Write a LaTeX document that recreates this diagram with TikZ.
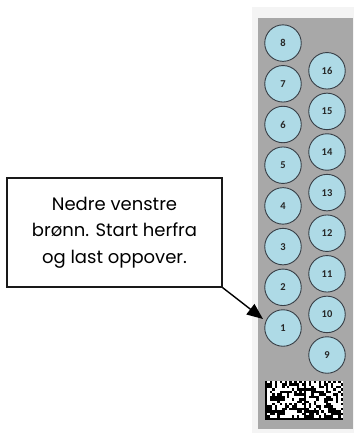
\documentclass[tikz,border=0pt]{standalone}
\usepackage{fontspec}
\setmainfont{Poppins}
\newfontfamily\wellfont{Carlito}
\usetikzlibrary{arrows.meta}
\definecolor{platebg}{RGB}{244,244,244}
\definecolor{plategray}{RGB}{168,168,168}
\definecolor{wellblue}{RGB}{174,218,230}
\definecolor{wellrim}{RGB}{55,62,70}
\tikzset{
  well/.style={circle, draw=wellrim, line width=0.9pt, fill=wellblue,
    minimum size=36.5pt, inner sep=0pt, font=\wellfont\bfseries\fontsize{10.5}{12}\selectfont, text=black!85},
  notebox/.style={draw=black!90, line width=1.3pt, fill=white, minimum width=215pt,
    minimum height=109pt, align=center, inner sep=0pt,
    font=\fontsize{18}{26.7}\selectfont},
  pointer/.style={line width=1.4pt, -{Triangle[length=16pt,width=13pt]}},
  module/.style={fill=black}
}
\begin{document}
\begin{tikzpicture}[x=1pt,y=-1pt]
  \useasboundingbox (0,0) rectangle (354,433);
  % plate backdrop and body
  \fill[platebg] (252,7) rectangle (354,433);
  \fill[plategray] (258,18) rectangle (353,429);
  % left column of wells, 1 at the bottom up to 8
  \foreach \i in {1,...,8} {
    \node[well] (w\i) at (283,{328-(\i-1)*40.7}) {\i};
  }
  % right column of wells, 9 at the bottom up to 16
  \foreach \i in {9,...,16} {
    \node[well] (w\i) at (327,{355-(\i-9)*40.6}) {\i};
  }
  % two data-matrix codes side by side
  \fill[white] (265,381) rectangle (343,420);
  \pgfmathsetseed{4711}
  \foreach \bx in {265,304} {
    \foreach \r in {0,...,15} {
      \foreach \c in {0,...,15} {
        \pgfmathsetmacro\m{2.4375}
        \pgfmathtruncatemacro\edge{(\c==0) || (\r==15) ? 1 : 0}
        \pgfmathtruncatemacro\clock{((\r==0) && (mod(\c,2)==0)) || ((\c==15) && (mod(\r,2)==1)) ? 1 : 0}
        \pgfmathtruncatemacro\inner{(\r>0) && (\r<15) && (\c>0) && (\c<15) ? 1 : 0}
        \pgfmathsetmacro\rnd{rnd}
        \pgfmathtruncatemacro\on{\edge || \clock || (\inner && (\rnd<0.5)) ? 1 : 0}
        \ifnum\on=1
          \fill[module] ({\bx+\c*\m},{381+\r*\m}) rectangle ++(\m+0.05,\m+0.05);
        \fi
      }
    }
  }
  % note with the pointer to the first well
  \node[notebox] (note) at (114.5,232.5) {Nedre venstre\\brønn. Start herfra\\og last oppover.};
  \coordinate (tip) at (263,319);
  \draw[pointer] (note.south east) -- (tip);
\end{tikzpicture}
\end{document}
